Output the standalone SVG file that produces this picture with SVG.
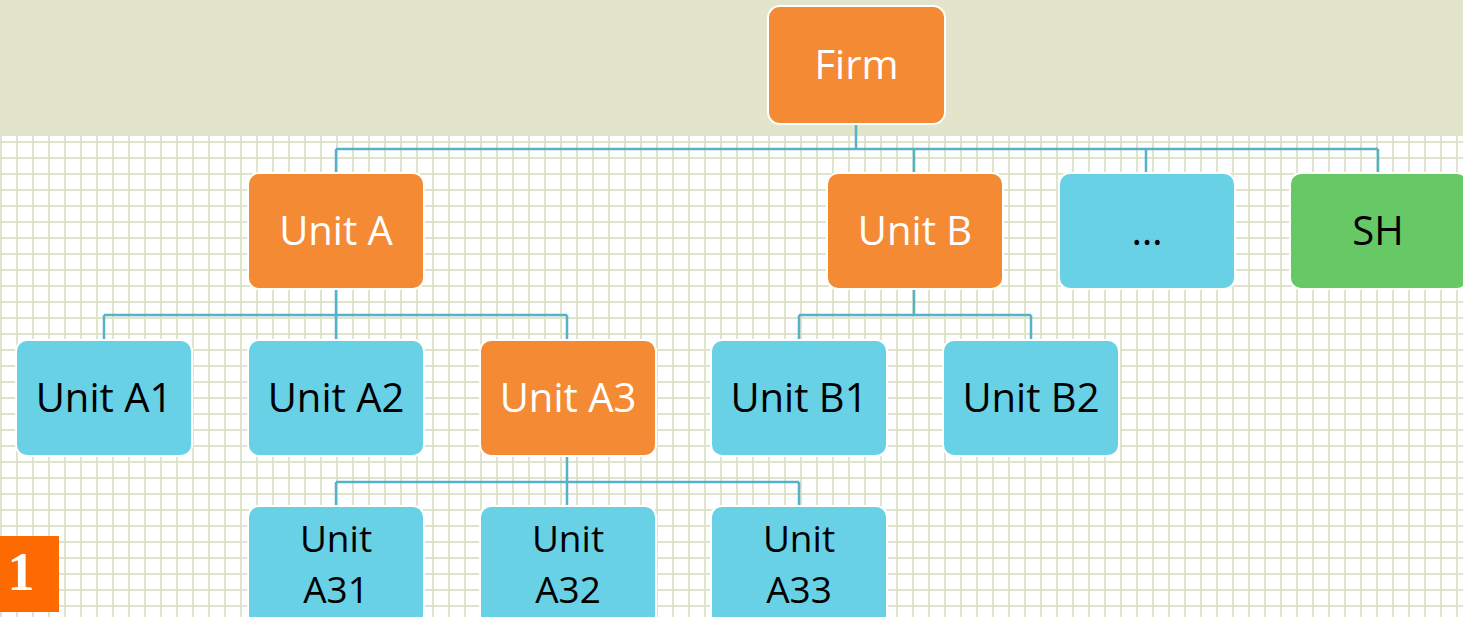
<svg xmlns="http://www.w3.org/2000/svg" width="1463" height="617" viewBox="0 0 1463 617">
  <defs>
    <pattern id="grid" x="0" y="13" width="16" height="16" patternUnits="userSpaceOnUse">
      <rect width="16" height="16" fill="#ffffff"/>
      <rect x="0" y="0" width="2" height="16" fill="#e1e4cc"/>
      <rect x="0" y="0" width="16" height="2" fill="#e1e4cc"/>
    </pattern>
  </defs>
  <style>
    .node rect { stroke: #ffffff; stroke-width: 2; }
    .orange rect { fill: #f58a35; }
    .blue rect { fill: #68d1e6; }
    .green rect { fill: #66c966; }
    .node text { font-family: "Open Sans", "Liberation Sans", sans-serif; font-size: 40px; text-anchor: middle; dominant-baseline: central; }
    .node text.two { font-size: 37px; }
    .orange text { fill: #ffffff; }
    .blue text, .green text { fill: #000000; }
    .conn { fill: none; stroke: #55b3c8; stroke-width: 2.5; }
  </style>

  <!-- background: grid paper with a plain header band -->
  <rect width="1463" height="617" fill="url(#grid)"/>
  <rect width="1463" height="136" fill="#e2e4cb"/>

  <!-- connectors -->
  <g id="connectors" class="conn">
    <path d="M856 124 V149 M336 149 H1378 M336 149 V173 M914 149 V173 M1146 149 V173 M1378 149 V173"/>
    <path d="M336 289 V315 M104 315 H567 M104 315 V340 M336 315 V340 M567 315 V340"/>
    <path d="M914 289 V315 M799 315 H1031 M799 315 V340 M1031 315 V340"/>
    <path d="M567 456 V482 M336 482 H799 M336 482 V506 M567 482 V506 M799 482 V506"/>
  </g>

  <!-- nodes -->
  <g id="firm" class="node orange"><rect x="768" y="6" width="177" height="118" rx="12"/><text x="856.5" y="63">Firm</text></g>

  <g id="unit-a" class="node orange"><rect x="248" y="173" width="176" height="116" rx="11"/><text x="336" y="229">Unit A</text></g>
  <g id="unit-b" class="node orange"><rect x="827" y="173" width="176" height="116" rx="11"/><text x="915" y="229">Unit B</text></g>
  <g id="unit-more" class="node blue"><rect x="1059" y="173" width="176" height="116" rx="11"/><text x="1147" y="229">…</text></g>
  <g id="sh" class="node green"><rect x="1290" y="173" width="178" height="116" rx="11"/><text x="1378" y="229">SH</text></g>

  <g id="unit-a1" class="node blue"><rect x="16" y="340" width="176" height="116" rx="11"/><text x="104" y="396">Unit A1</text></g>
  <g id="unit-a2" class="node blue"><rect x="248" y="340" width="176" height="116" rx="11"/><text x="336" y="396">Unit A2</text></g>
  <g id="unit-a3" class="node orange"><rect x="480" y="340" width="176" height="116" rx="11"/><text x="568" y="396">Unit A3</text></g>
  <g id="unit-b1" class="node blue"><rect x="711" y="340" width="176" height="116" rx="11"/><text x="799" y="396">Unit B1</text></g>
  <g id="unit-b2" class="node blue"><rect x="943" y="340" width="176" height="116" rx="11"/><text x="1031" y="396">Unit B2</text></g>

  <g id="unit-a31" class="node blue"><rect x="248" y="506" width="176" height="120" rx="11"/><text class="two" x="336" y="537">Unit</text><text class="two" x="336" y="588">A31</text></g>
  <g id="unit-a32" class="node blue"><rect x="480" y="506" width="176" height="120" rx="11"/><text class="two" x="568" y="537">Unit</text><text class="two" x="568" y="588">A32</text></g>
  <g id="unit-a33" class="node blue"><rect x="711" y="506" width="176" height="120" rx="11"/><text class="two" x="799" y="537">Unit</text><text class="two" x="799" y="588">A33</text></g>

  <!-- page number tab -->
  <g id="page-number">
    <rect x="0" y="536" width="59" height="76" fill="#fd6a02"/>
    <text x="21" y="590" font-family="Liberation Serif, serif" font-size="54" font-weight="bold" fill="#ffffff" text-anchor="middle">1</text>
  </g>
</svg>
